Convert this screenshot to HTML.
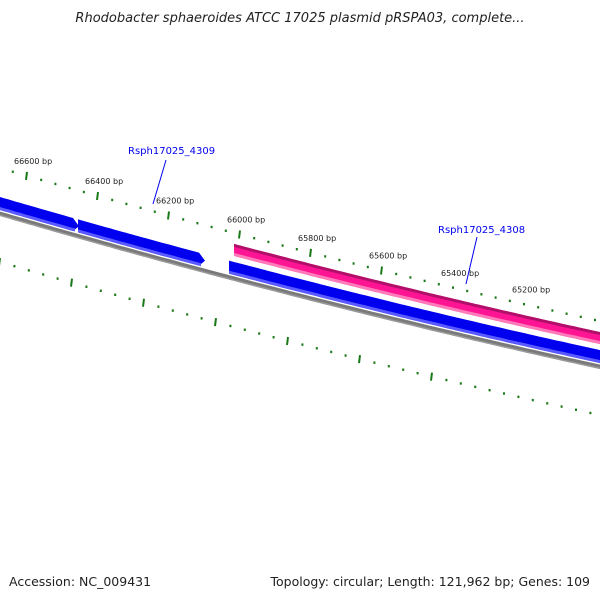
<!DOCTYPE html>
<html><head><meta charset="utf-8"><style>
body{margin:0;background:#fff;}
svg{display:block;font-family:"DejaVu Sans","Liberation Sans",sans-serif;}
</style></head><body>
<svg id="map" width="600" height="600" viewBox="0 0 600 600">
<text x="300" y="22" text-anchor="middle" font-size="13" font-style="italic" fill="#222">Rhodobacter sphaeroides ATCC 17025 plasmid pRSPA03, complete...</text>
<g id="layer"></g>
<text x="9" y="586" font-size="12.5" fill="#222">Accession: NC_009431</text>
<text x="590" y="586" text-anchor="end" font-size="12.5" fill="#222">Topology: circular; Length: 121,962 bp; Genes: 109</text>
</svg>
<script>
// data
const outerTickLabels=[66600,66400,66200,66000,65800,65600,65400,65200];
const outerTickX=[27,98,169,240,311,382,454,525];
const innerTickX=[0,72,144,216,289,361,433,507,579];
const geneNames=["gene-a","Rsph17025_4309","gene-c","Rsph17025_4308"];
const geneStart=[-20,78,229,234];
const geneEnd=[79,205,620,620];
const geneStrand=["blue","blue","blue","pink"];
const geneArrow=[true,true,false,false];
const calloutGenes=["Rsph17025_4309","Rsph17025_4308"];
const calloutTextX=[128,438];
const calloutTextY=[154,233];
const calloutLine=[[166,160,153,204],[477,237,466,284]];

const NS="http://www.w3.org/2000/svg";
const layer=document.getElementById('layer');
function B(x){return 214+0.2917*x-6.1e-5*x*x;}
function mk(t,a){const e=document.createElementNS(NS,t);for(const k in a)e.setAttribute(k,a[k]);layer.appendChild(e);return e;}
function band(x0,x1,o0,o1,fill,arrow){
  let top=[],bot=[];
  const xe=arrow?x1-6:x1;
  for(let x=x0;x<=xe;x+=4){top.push([x,B(x)+o0]);bot.push([x,B(x)+o1]);}
  top.push([xe,B(xe)+o0]);bot.push([xe,B(xe)+o1]);
  let pts=top.slice();
  if(arrow)pts.push([x1,B(x1)+(o0+o1)/2]);
  pts=pts.concat(bot.reverse());
  return mk('polygon',{points:pts.map(p=>p[0].toFixed(1)+','+p[1].toFixed(1)).join(' '),fill:fill});
}
// backbone
let e=band(-10,620,-2.5,2,'#7a7a7a',false);


e=band(-10,620,0.5,2,'#9a9a9a',false);


// genes
for(let i=0;i<geneNames.length;i++){
  const blue=geneStrand[i]==='blue';
  const o0=blue?-17:-35,o1=blue?-4:-23;
  e=band(geneStart[i],geneEnd[i],o0,o1,blue?'#0000ee':'#ff1493',geneArrow[i]);
  
  
  e=band(geneStart[i],geneEnd[i]-(geneArrow[i]?4:0),o1-3,o1,blue?'#5a5aff':'#ff7ab8',false);
  
  
  if(!blue){e=band(geneStart[i],geneEnd[i],o0,o0+3,'#b0106a',false);
  
  }
}
// outer ticks
const step=(outerTickX[1]-outerTickX[0])/5;
for(let x=outerTickX[0]-2*step;x<610;x+=step){
  const major=outerTickX.some(t=>Math.abs(t-x)<1);
  const y=B(x)-46;
  e=mk('line',{x1:x,y1:y-(major?4:1.2),x2:x-(major?1:0),y2:y+(major?4:1.2),stroke:'#1a7a1a','stroke-width':2});
  
  
}
for(let i=0;i<outerTickLabels.length;i++){
  const x=outerTickX[i];
  e=mk('text',{x:x-13,y:B(x)-58,'font-size':'8',fill:'#222'});
  e.textContent=outerTickLabels[i]+' bp';
  
  
}
// inner ticks
const istep=(innerTickX[2]-innerTickX[1])/5;
for(let x=innerTickX[1]-5*istep;x<610;x+=istep){
  const major=innerTickX.some(t=>Math.abs(t-x)<1.5);
  const y=B(x)+48;
  e=mk('line',{x1:x,y1:y-(major?4:1.2),x2:x-(major?1:0),y2:y+(major?4:1.2),stroke:'#1a7a1a','stroke-width':2});
  
  
}
// callouts
for(let i=0;i<calloutGenes.length;i++){
  const l=calloutLine[i];
  e=mk('line',{x1:l[0],y1:l[1],x2:l[2],y2:l[3],stroke:'#0000ee','stroke-width':1});
  
  
  e=mk('text',{x:calloutTextX[i],y:calloutTextY[i],'font-size':'10',fill:'#0000ee'});
  e.textContent=calloutGenes[i];
  
  
}
</script>
</body></html>
